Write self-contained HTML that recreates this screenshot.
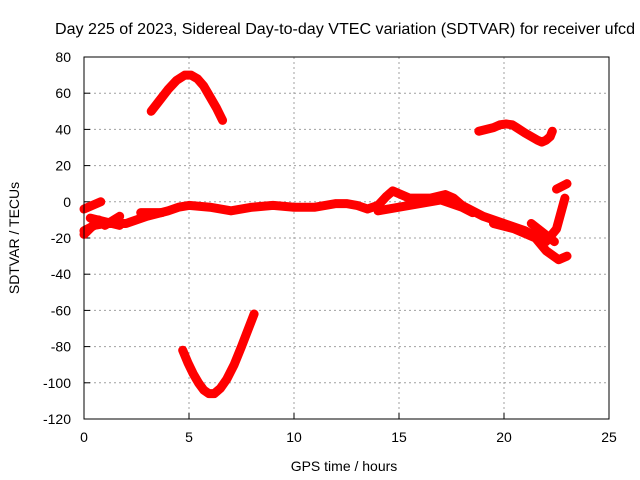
<!DOCTYPE html>
<html><head><meta charset="utf-8"><style>
body{margin:0;background:#fff;}
svg{display:block;font-family:"Liberation Sans",sans-serif;font-size:14px;}
</style></head><body>
<svg id="chart" width="640" height="480">
<text x="55" y="34" textLength="580" lengthAdjust="spacingAndGlyphs" style="font-size:16px">Day 225 of 2023, Sidereal Day-to-day VTEC variation (SDTVAR) for receiver ufcd</text>
<g id="grid"></g>
<g id="axes"></g>
<g id="series"></g>
<rect x="84" y="57" width="525" height="362" fill="none" stroke="#000"/>
<text x="344" y="471" text-anchor="middle">GPS time / hours</text>
<text x="0" y="0" transform="translate(19,238) rotate(-90)" text-anchor="middle">SDTVAR / TECUs</text>
</svg>
<script>
const xTicks=[0,5,10,15,20,25];
const yTicks=[80,60,40,20,0,-20,-40,-60,-80,-100,-120];
const arcTop=[[3.2,50],[3.6,56],[4,62],[4.4,67],[4.8,70],[5.1,70],[5.4,68],[5.7,64],[6,58],[6.3,52],[6.6,45]];
const arcBottom=[[4.7,-82],[4.95,-89],[5.2,-95],[5.45,-100],[5.7,-104],[5.95,-106],[6.2,-106],[6.5,-103],[6.8,-98],[7.15,-90],[7.5,-80],[7.8,-71],[8.1,-62]];
const arcRight=[[18.8,39],[19.5,41],[19.8,42.5],[20.1,43],[20.4,42.5],[20.6,41],[21,38],[21.3,36],[21.6,34],[21.8,33],[22,34],[22.2,36],[22.3,39]];
const mainBand=[[0,-16],[0.5,-13],[1,-12],[2,-12],[2.5,-10],[3,-8],[4,-5],[4.5,-3],[5,-2],[6,-3],[7,-5],[8,-3],[9,-2],[10,-3],[11,-3],[12,-1],[12.5,-1],[13,-2],[13.5,-4],[14,-2],[14.4,3],[14.7,6],[15.1,4],[15.5,2],[16.5,2],[17.2,4],[17.6,2],[18,-2],[19,-8],[20,-12],[21,-16],[21.5,-19],[22,-22],[22.5,-15],[22.9,2]];
const band2=[[14,-5],[15,-3],[16,-1],[17,1],[18,-3],[18.5,-6]];
const stub1=[[0,-18],[0.7,-10]];
const stub2=[[0,-4],[0.8,0]];
const stub3=[[0.3,-9],[1.7,-13]];
const stub4=[[1.7,-8],[1,-13]];
const stub5=[[2.7,-6],[3.7,-6]];
const lowerTail=[[19.5,-12],[20.5,-15],[21.5,-20],[22,-27],[22.6,-32],[23,-30]];
const branch=[[21.3,-12],[22.4,-22]];
const topTick=[[22.5,7],[23,10]];
const allSeries=[arcTop,arcBottom,arcRight,mainBand,band2,stub1,stub2,stub3,stub4,stub5,lowerTail,branch,topTick];
const names=['arc-top','arc-bottom','arc-right','main-band','band-2','stub-1','stub-2','stub-3','stub-4','stub-5','lower-tail','branch','top-tick'];
const X=h=>84+h*21, Y=v=>57+(80-v)*1.81;
const NS='http://www.w3.org/2000/svg';
const grid=document.getElementById('grid'), axes=document.getElementById('axes'), ser=document.getElementById('series');
function mk(tag,attrs,parent){const e=document.createElementNS(NS,tag);for(const k in attrs)e.setAttribute(k,attrs[k]);parent.appendChild(e);return e;}
xTicks.forEach(t=>{
  if(t>0&&t<25){const l=mk('line',{x1:X(t),x2:X(t),y1:57,y2:419,stroke:'#a0a0a0','stroke-dasharray':'2,3'},grid);
  
  }
  const tk=mk('line',{x1:X(t),x2:X(t),y1:419,y2:413,stroke:'#000'},axes);
  
  
  const tx=mk('text',{x:X(t),y:442,'text-anchor':'middle'},axes);tx.textContent=t;
  
  
});
yTicks.forEach(t=>{
  if(t<80&&t>-120){const l=mk('line',{x1:84,x2:609,y1:Y(t),y2:Y(t),stroke:'#a0a0a0','stroke-dasharray':'2,3'},grid);
  
  }
  const tk=mk('line',{x1:84,x2:90,y1:Y(t),y2:Y(t),stroke:'#000'},axes);
  
  
  const tx=mk('text',{x:71,y:Y(t)+5,'text-anchor':'end'},axes);tx.textContent=t;
  
  
});
allSeries.forEach((s,i)=>{
  const p=mk('polyline',{points:s.map(d=>X(d[0])+','+Y(d[1])).join(' '),fill:'none',stroke:'#ff0000','stroke-width':9,'stroke-linejoin':'round','stroke-linecap':'round'},ser);
  
  
});
</script>
</body></html>
